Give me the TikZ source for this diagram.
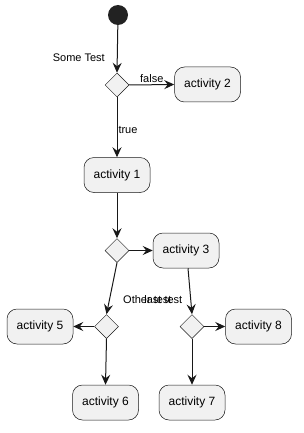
\documentclass[tikz,border=0pt]{standalone}
\usepackage{fontspec}
\setmainfont{Liberation Sans}
\usetikzlibrary{arrows.meta,shapes.geometric,positioning}
\definecolor{nodefill}{HTML}{F1F1F1}
\definecolor{linecol}{HTML}{181818}
\definecolor{startcol}{HTML}{222222}

\begin{document}
\begin{tikzpicture}[x=1pt,y=-1pt,
    act/.style={draw=linecol, fill=nodefill, line width=0.5pt, rounded corners=10pt,
                minimum width=66pt, minimum height=35pt, inner sep=0pt, font=\fontsize{12}{14}\selectfont},
    choice/.style={draw=linecol, fill=nodefill, line width=0.5pt, diamond,
                   minimum width=24pt, minimum height=24pt, inner sep=0pt},
    lbl/.style={font=\fontsize{11}{13}\selectfont, inner sep=0pt},
    flow/.style={draw=linecol, line width=1pt, -{Stealth[length=10pt,width=9pt,inset=3.5pt]}}]
  \useasboundingbox (0,0) rectangle (304,433);

  \node[circle, fill=startcol, minimum size=20pt, inner sep=0pt] (start) at (118,15) {};
  \node[choice] (d1) at (117,85) {};
  \node[act] (a2) at (207.5,84.5) {activity 2};
  \node[act] (a1) at (117,175) {activity 1};
  \node[choice] (d2) at (117,250.5) {};
  \node[act] (a3) at (186,250.5) {activity 3};
  \node[choice] (d3) at (106.5,326.5) {};
  \node[choice] (d4) at (192,326.5) {};
  \node[act] (a5) at (40,326.5) {activity 5};
  \node[act] (a8) at (258.5,326.5) {activity 8};
  \node[act] (a6) at (105.5,402.5) {activity 6};
  \node[act] (a7) at (192,402.5) {activity 7};

  \node[lbl, anchor=east] (t1) at (105,58) {Some Test};
  \node[lbl, anchor=west] (t2) at (123,300) {Other test};
  \node[lbl, anchor=east] (t3) at (182.5,300) {last test};

  \draw[flow] (start) -- (d1.north);
  \draw[flow] (d1.east) -- (a2.west) node[lbl, pos=0.5, above=2pt] {false};
  \draw[flow] (d1.south) -- (a1.north) node[lbl, pos=0.55, right=1pt] {true};
  \draw[flow] (a1.south) -- (d2.north);
  \draw[flow] (d2.east) -- (a3.west);
  \draw[flow] (d2.south) -- (d3.north);
  \draw[flow] ([xshift=2pt]a3.south) -- (d4.north);
  \draw[flow] (d3.west) -- (a5.east);
  \draw[flow] (d3.south) -- (a6.north);
  \draw[flow] (d4.east) -- (a8.west);
  \draw[flow] (d4.south) -- (a7.north);
\end{tikzpicture}
\end{document}
